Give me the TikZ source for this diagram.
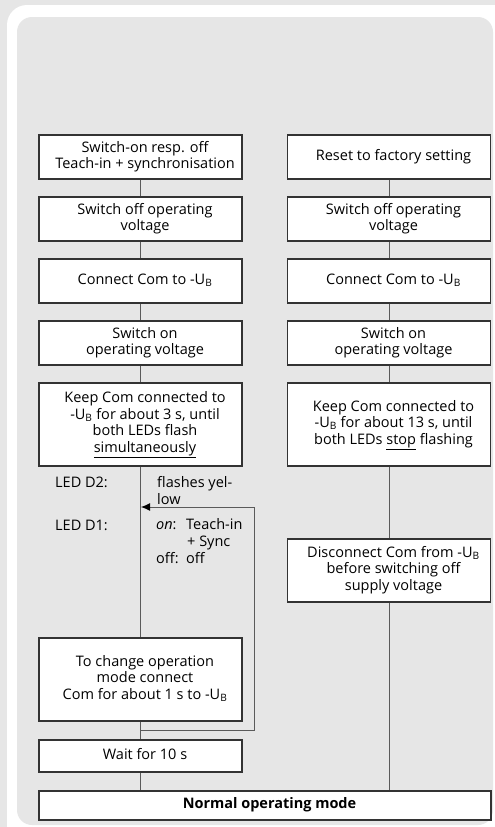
\documentclass[tikz,border=0pt]{standalone}
\usepackage{fontspec}
\setmainfont{Open Sans}
\usetikzlibrary{arrows.meta}
\definecolor{bgc}{HTML}{E6E6E6}
\definecolor{boxline}{HTML}{333333}
\definecolor{connline}{HTML}{5A5A5A}
\newcommand{\bxt}[1]{\hspace*{9pt}\begin{tabular}{@{}c@{}}#1\end{tabular}}
\begin{document}
\begin{tikzpicture}[x=1pt,y=-1pt,
  box/.style={draw=boxline, line width=1.3pt, fill=white, inner sep=0pt,
    font=\fontsize{14.5}{16.5}\selectfont, minimum width=203pt},
  conn/.style={draw=connline, line width=1pt},
  lbl/.style={anchor=base west, inner sep=0pt, font=\fontsize{14.5}{16.5}\selectfont}]
\useasboundingbox (0,0) rectangle (495,827);
\fill[bgc] (0,0) rectangle (495,827);
\fill[white, rounded corners=20pt] (7,5) rectangle (515,845);
\fill[bgc, rounded corners=15pt] (17,17) rectangle (493,825);
% left column
\node[box, minimum height=44pt] (l1) at (140.5,157) {\bxt{Switch-on resp. off\\Teach-in + synchronisation}};
\node[box, minimum height=44pt] (l2) at (140.5,219) {\bxt{Switch off operating\\voltage}};
\node[box, minimum height=44pt] (l3) at (140.5,281) {\bxt{Connect Com to -U\textsubscript{B}}};
\node[box, minimum height=44pt] (l4) at (140.5,343) {\bxt{Switch on\\operating voltage}};
\node[box, minimum height=83pt] (l5) at (140.5,424.5) {\bxt{Keep Com connected to\\-U\textsubscript{B} for about 3 s, until\\both LEDs flash\\\underline{simultaneously}}};
\node[box, minimum height=83pt] (l6) at (140.5,679.5) {\bxt{To change operation\\mode connect\\Com for about 1 s to -U\textsubscript{B}}};
\node[box, minimum height=32pt] (l7) at (140.5,756) {\bxt{Wait for 10 s}};
% right column
\node[box, minimum height=44pt] (r1) at (389,157) {\bxt{Reset to factory setting}};
\node[box, minimum height=44pt] (r2) at (389,219) {\bxt{Switch off operating\\voltage}};
\node[box, minimum height=44pt] (r3) at (389,281) {\bxt{Connect Com to -U\textsubscript{B}}};
\node[box, minimum height=44pt] (r4) at (389,343) {\bxt{Switch on\\operating voltage}};
\node[box, minimum height=83pt] (r5) at (389,424.5) {\bxt{Keep Com connected to\\-U\textsubscript{B} for about 13 s, until\\both LEDs \underline{stop} flashing}};
\node[box, minimum height=63pt] (r6) at (389,570.5) {\bxt{Disconnect Com from -U\textsubscript{B}\\before switching off\\supply voltage}};
% final
\node[box, minimum width=452pt, minimum height=29pt, font=\fontsize{14.5}{16.5}\selectfont\bfseries] (nm) at (265,805.5) {\bxt{Normal operating mode}};
% connectors
\draw[conn] (l1) -- (l2);
\draw[conn] (l2) -- (l3);
\draw[conn] (l3) -- (l4);
\draw[conn] (l4) -- (l5);
\draw[conn] (l5) -- (l6);
\draw[conn] (l6) -- (l7);
\draw[conn] (l7.south) -- (l7.south |- nm.north);
\draw[conn] (r1) -- (r2);
\draw[conn] (r2) -- (r3);
\draw[conn] (r3) -- (r4);
\draw[conn] (r4) -- (r5);
\draw[conn] (r5) -- (r6);
\draw[conn] (r6.south) -- (r6.south |- nm.north);
% loop back
\coordinate (lpa) at (141,730);
\coordinate (lpb) at (254,730);
\coordinate (lpc) at (254,507);
\coordinate (lpd) at (141,507);
\draw[conn, -{Latex[length=9pt,width=8pt,fill=black,color=black]}] (lpa) -- (lpb) -- (lpc) -- (lpd);
% LED labels
\node[lbl] (d2) at (55,487) {LED D2:};
\node[lbl] (d1) at (55,530) {LED D1:};
\node[lbl] (fy1) at (157,487) {flashes yel-};
\node[lbl] (fy2) at (157,504) {low};
\node[lbl] (on1) at (156,529) {\textit{on}:};
\node[lbl] (on2) at (186,529) {Teach-in};
\node[lbl] (on3) at (187,546) {+ Sync};
\node[lbl] (of1) at (156,563) {off:};
\node[lbl] (of2) at (186,563) {off};
\end{tikzpicture}
\end{document}
